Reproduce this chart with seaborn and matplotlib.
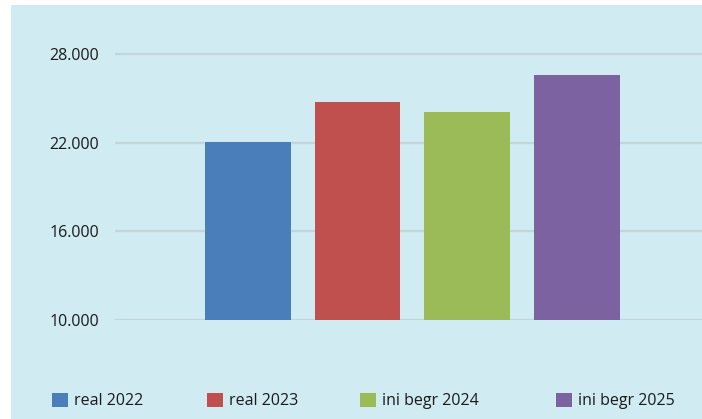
import matplotlib
matplotlib.use("Agg")
import matplotlib.pyplot as plt
import matplotlib.patches as mpatches
import seaborn as sns
import pandas as pd

# values
categories = ["real 2022", "real 2023", "ini begr 2024", "ini begr 2025"]
values = [22050, 24780, 24080, 26600]
yticks = [10000, 16000, 22000, 28000]
colors = ["#4a7ebb", "#c0504d", "#9bbb59", "#7d62a1"]

bg = "#d0ebf1"
grid_col = "#c2d6da"
text_col = "#1b1b1b"

sns.set_style("white")
plt.rcParams["font.family"] = ["Open Sans", "DejaVu Sans"]

W, H = 702, 419
fig = plt.figure(figsize=(W / 100, H / 100), dpi=100)
fig.patch.set_facecolor("white")
# light blue panel, white strip on left and top
fig.patches.append(mpatches.Rectangle((11 / W, 0), 1 - 11 / W, 1 - 5 / H,
                                      transform=fig.transFigure, facecolor=bg,
                                      edgecolor="none", zorder=-5))

ax = fig.add_axes([115 / W, (H - 320) / H, (W - 115) / W, (320 - 5) / H])
ax.set_facecolor("none")

df = pd.DataFrame({"cat": categories, "val": values})
sns.barplot(data=df, x="cat", y="val", hue="cat", palette=colors,
            width=0.78, legend=False, saturation=1, ax=ax, zorder=3,
            linewidth=0, edgecolor="none")

ax.set_ylim(10000, 31316)
ax.set_xlim(-1.21, 4.14)
ax.set_yticks(yticks)
ax.set_yticklabels([f"{v:,}".replace(",", ".") for v in yticks],
                   fontsize=11.5, color=text_col)
ax.set_xticks([])
ax.set_xlabel("")
ax.set_ylabel("")
ax.tick_params(axis="y", length=0, pad=11.5)
ax.grid(axis="y", color=grid_col, linewidth=1.6, zorder=1)
ax.set_axisbelow(True)
for s in ax.spines.values():
    s.set_visible(False)

# legend entries placed one by one, as in the reference
legend_x = [52, 207, 360, 556]
for c, l, lx in zip(colors, categories, legend_x):
    fig.legend(handles=[mpatches.Patch(facecolor=c, edgecolor="none", label=l)],
               loc="center left", bbox_to_anchor=(lx / W, 1 - 401 / H),
               frameon=False, fontsize=11.5, handlelength=1.0,
               handleheight=0.95, handletextpad=0.4, labelcolor=text_col,
               borderaxespad=0, borderpad=0)

fig.savefig("out.png", dpi=100, facecolor="white")
